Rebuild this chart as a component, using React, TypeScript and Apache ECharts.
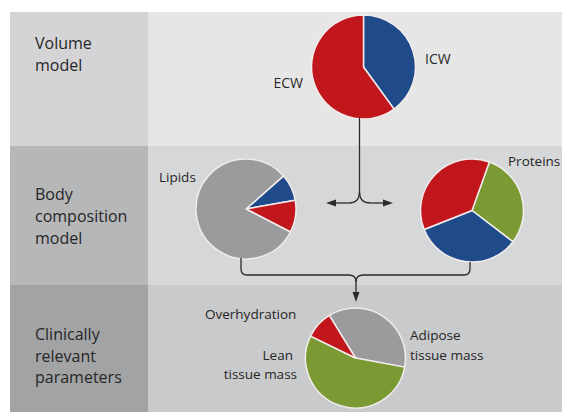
import React, { useEffect, useRef } from "react";
import * as echarts from "echarts";

// ---- data ----
const rowLabels = ["Volume\nmodel", "Body\ncomposition\nmodel", "Clinically\nrelevant\nparameters"];

const volumeCategories = ["ICW", "ECW"];
const volumeValues = [40, 60];
const volumeColors = ["#1f4b8b", "#c2161d"];

const lipidCategories = ["ICW", "ECW", "Lipids"];
const lipidValues = [8.7, 10.4, 80.9];
const lipidColors = ["#1f4b8b", "#c2161d", "#9b9b9d"];

const proteinCategories = ["Proteins", "ICW", "ECW"];
const proteinValues = [29.9, 33.6, 36.5];
const proteinColors = ["#7c9a33", "#1f4b8b", "#c2161d"];

const clinicalCategories = ["Adipose tissue mass", "Lean tissue mass", "Overhydration"];
const clinicalValues = [36.7, 54.3, 9.0];
const clinicalColors = ["#9b9b9d", "#7c9a33", "#c2161d"];

const FONT = "'Open Sans', 'Noto Sans', sans-serif";
const TEXT = "#262626";
const LINE = "#2b2b2b";

function pie(center: number[], radius: number, startAngle: number, names: string[], values: number[], colors: string[]) {
  return {
    type: "pie",
    center,
    radius,
    startAngle,
    clockwise: true,
    silent: true,
    label: { show: false },
    labelLine: { show: false },
    emphasis: { disabled: true },
    itemStyle: { borderColor: "#f2ecec", borderWidth: 1.5 },
    data: names.map((n, i) => ({ name: n, value: values[i], itemStyle: { color: colors[i] } })),
  };
}

function txt(text: string, x: number, y: number, align: string, size: number) {
  return {
    type: "text",
    z: 10,
    style: {
      text,
      x,
      y,
      fill: TEXT,
      font: `${size}px ${FONT}`,
      textAlign: align,
      textVerticalAlign: "middle",
    },
  };
}

function seg(points: number[][]) {
  return { type: "polyline", z: 5, shape: { points }, style: { stroke: LINE, lineWidth: 1.3, fill: null } };
}
function curve(x1: number, y1: number, cx: number, cy: number, x2: number, y2: number) {
  return {
    type: "bezierCurve",
    z: 5,
    shape: { x1, y1, cpx1: cx, cpy1: cy, x2, y2 },
    style: { stroke: LINE, lineWidth: 1.3, fill: null },
  };
}
function head(points: number[][]) {
  return { type: "polygon", z: 6, shape: { points }, style: { fill: LINE } };
}

export default function App() {
  const ref = useRef<HTMLDivElement>(null);
  useEffect(() => {
    if (!ref.current) return;
    const chart = echarts.init(ref.current, undefined, { renderer: "svg" });

    const rowTops = [12, 146, 285];
    const rowBottoms = [146, 285, 412];
    const leftColors = ["#d4d4d6", "#b6b7b9", "#a2a3a5"];
    const rightColors = ["#e6e6e6", "#d6d7d9", "#c9cacc"];

    const graphic: any[] = [];
    rowTops.forEach((t, i) => {
      graphic.push({
        type: "rect",
        z: 0,
        shape: { x: 10, y: t, width: 138, height: rowBottoms[i] - t },
        style: { fill: leftColors[i] },
      });
      graphic.push({
        type: "rect",
        z: 0,
        shape: { x: 148, y: t, width: 414, height: rowBottoms[i] - t },
        style: { fill: rightColors[i] },
      });
    });

    // row labels (one text per line)
    const rowLineY = [
      [43, 65],
      [194, 216, 238],
      [334, 356, 377],
    ];
    rowLabels.forEach((lab, i) => {
      lab.split("\n").forEach((line, j) => {
        graphic.push(txt(line, 35, rowLineY[i][j], "left", 16));
      });
    });

    // pie labels
    graphic.push(txt(volumeCategories[0], 425, 58, "left", 14));
    graphic.push(txt(volumeCategories[1], 303, 82, "right", 14));
    graphic.push(txt(lipidCategories[2], 159, 177, "left", 13.5));
    graphic.push(txt(proteinCategories[0], 508, 161, "left", 13.5));
    graphic.push(txt(clinicalCategories[2], 205, 314, "left", 13.5));
    graphic.push(txt("Lean", 293, 355, "right", 13.5));
    graphic.push(txt("tissue mass", 297, 374, "right", 13.5));
    graphic.push(txt("Adipose", 410, 335, "left", 13.5));
    graphic.push(txt("tissue mass", 410, 355, "left", 13.5));

    // top brace: volume -> two models
    const vx = 359.5;
    graphic.push(seg([[vx, 118], [vx, 192]]));
    graphic.push(curve(vx, 192, vx, 203, vx - 11, 203));
    graphic.push(seg([[vx - 11, 203], [334, 203]]));
    graphic.push(head([[326, 203], [336, 199.5], [336, 206.5]]));
    graphic.push(curve(vx, 192, vx, 203, vx + 11, 203));
    graphic.push(seg([[vx + 11, 203], [384, 203]]));
    graphic.push(head([[393, 203], [383, 199.5], [383, 206.5]]));

    // bottom brace: models -> clinical
    const bx = 356;
    const by = 275;
    graphic.push(seg([[241, 258], [241, by - 6]]));
    graphic.push(curve(241, by - 6, 241, by, 247, by));
    graphic.push(seg([[247, by], [bx - 7, by]]));
    graphic.push(curve(bx - 7, by, bx, by, bx, by + 7));
    graphic.push(seg([[470, 262], [470, by - 6]]));
    graphic.push(curve(470, by - 6, 470, by, 464, by));
    graphic.push(seg([[464, by], [bx + 7, by]]));
    graphic.push(curve(bx + 7, by, bx, by, bx, by + 7));
    graphic.push(seg([[bx, by + 7], [bx, 294]]));
    graphic.push(head([[bx, 302], [bx - 3.5, 292], [bx + 3.5, 292]]));

    chart.setOption({
      animation: false,
      backgroundColor: "#ffffff",
      graphic,
      series: [
        pie([363.5, 67], 52, 90, volumeCategories, volumeValues, volumeColors),
        pie([246, 209], 50, 41.4, lipidCategories, lipidValues, lipidColors),
        pie([472, 210.5], 51.5, 70.3, proteinCategories, proteinValues, proteinColors),
        pie([355.5, 358], 50, 121.6, clinicalCategories, clinicalValues, clinicalColors),
      ],
    });
    return () => chart.dispose();
  }, []);
  return (
    <div
      ref={ref}
      style={{ position: "absolute", left: 0, top: 0, width: 562, height: 412, background: "#fff" }}
    />
  );
}
